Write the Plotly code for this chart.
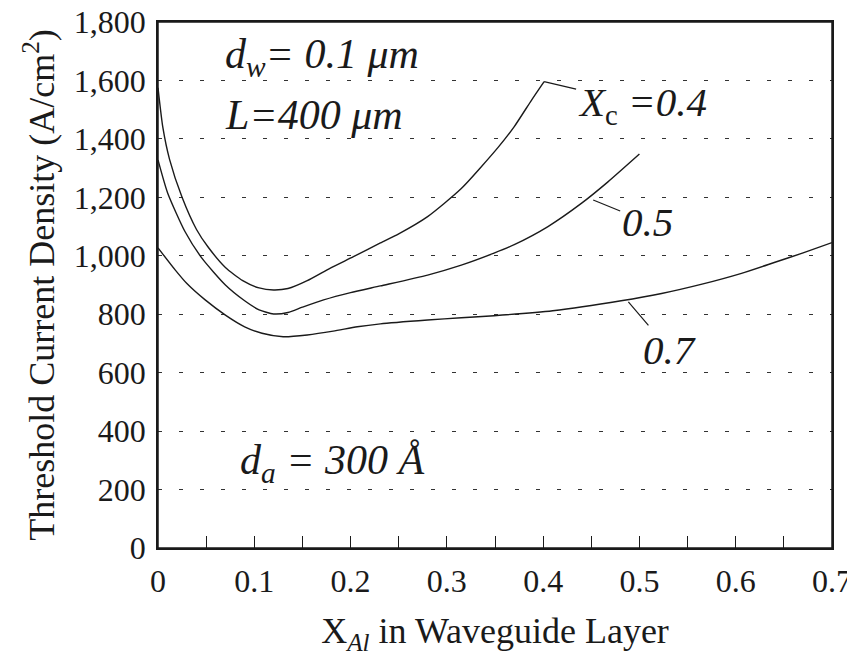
import plotly.graph_objects as go

# X_Al in waveguide layer vs threshold current density, one list pair per X_c curve
x_04 = [0.0, 0.005, 0.012, 0.025, 0.040, 0.052, 0.070, 0.088, 0.105, 0.120, 0.135, 0.155,
        0.179, 0.203, 0.231, 0.250, 0.280, 0.315, 0.353, 0.370, 0.388, 0.401]
y_04 = [1575, 1440, 1330, 1200, 1090, 1030, 960, 915, 890, 883, 888, 915,
        958, 997, 1044, 1075, 1134, 1230, 1370, 1442, 1533, 1596]

x_05 = [0.0, 0.010, 0.028, 0.046, 0.070, 0.090, 0.105, 0.120, 0.135, 0.150, 0.172, 0.200,
        0.231, 0.280, 0.315, 0.349, 0.370, 0.405, 0.440, 0.467, 0.500]
y_05 = [1328, 1215, 1083, 990, 900, 846, 815, 801, 806, 824, 849, 874,
        897, 934, 968, 1009, 1038, 1100, 1180, 1252, 1348]

x_07 = [0.0, 0.018, 0.030, 0.049, 0.070, 0.090, 0.108, 0.130, 0.155, 0.182, 0.207, 0.231,
        0.280, 0.315, 0.349, 0.410, 0.481, 0.523, 0.565, 0.606, 0.640, 0.670, 0.700]
y_07 = [1027, 951, 905, 849, 797, 757, 735, 723, 729, 742, 757, 767,
        780, 788, 795, 812, 846, 871, 903, 940, 977, 1010, 1045]

series = [("0.4", x_04, y_04), ("0.5", x_05, y_05), ("0.7", x_07, y_07)]

x_ticks = [0, 0.1, 0.2, 0.3, 0.4, 0.5, 0.6, 0.7]
x_tick_text = ["0", "0.1", "0.2", "0.3", "0.4", "0.5", "0.6", "0.7"]
y_ticks = [0, 200, 400, 600, 800, 1000, 1200, 1400, 1600, 1800]
y_tick_text = ["0", "200", "400", "600", "800", "1,000", "1,200", "1,400", "1,600", "1,800"]

# curve labels: (text, x on curve, y on curve, text offset px)
curve_labels = [
    ("<i>X</i><sub>c</sub><i> =0.4</i>", 0.401, 1596, 98, 23),
    ("<i>0.5</i>", 0.452, 1191, 54, 22),
    ("<i>0.7</i>", 0.4885, 842, 41, 48),
]

FONT = "Liberation Serif"
INK = "#1a1a1a"

fig = go.Figure()
for name, xs, ys in series:
    fig.add_trace(go.Scatter(x=xs, y=ys, mode="lines", name=name,
                             line=dict(color=INK, width=1.4, shape="spline", smoothing=0.6),
                             showlegend=False))

for text, xa, ya, ax, ay in curve_labels:
    fig.add_annotation(x=xa, y=ya, xref="x", yref="y", text=text, showarrow=True,
                       arrowhead=0, arrowwidth=1.2, arrowcolor=INK,
                       ax=ax, ay=ay, standoff=0, startstandoff=0,
                       font=dict(family=FONT, size=41, color=INK))

fig.add_annotation(x=0.068, y=1680, xref="x", yref="y", xanchor="left", yanchor="middle",
                   text="<i>d</i><sub><i>w</i></sub><i>= 0.1 μm</i>", showarrow=False,
                   font=dict(family=FONT, size=42, color=INK))
fig.add_annotation(x=0.068, y=1482, xref="x", yref="y", xanchor="left", yanchor="middle",
                   text="<i>L=400 μm</i>", showarrow=False,
                   font=dict(family=FONT, size=42, color=INK))
fig.add_annotation(x=0.083, y=291, xref="x", yref="y", xanchor="left", yanchor="middle",
                   text="<i>d</i><sub><i>a</i></sub><i> = 300 Å</i>", showarrow=False,
                   font=dict(family=FONT, size=42, color=INK))

# plot frame
fig.add_shape(type="rect", xref="paper", yref="paper", x0=0, x1=1, y0=0, y1=1,
              line=dict(color=INK, width=1.5), layer="above")

fig.update_layout(
    width=847, height=648,
    margin=dict(l=150, r=23, t=14, b=108),
    paper_bgcolor="white", plot_bgcolor="white",
    font=dict(family=FONT, size=32, color=INK),
)
fig.update_xaxes(
    range=[0, 0.7], tickvals=x_ticks, ticktext=x_tick_text, automargin=False,
    showline=True, linecolor=INK, linewidth=1.5, mirror=True,
    ticks="inside", ticklen=12, tickwidth=1.2, tickcolor=INK,
    minor=dict(ticks="inside", dtick=0.05, ticklen=12, tickwidth=1.2, tickcolor=INK, showgrid=False),
    showgrid=False, zeroline=False, ticklabelstandoff=4, ticklabeloverflow="allow",
    tickfont=dict(family=FONT, size=32),
    title=dict(text="X<sub><i>Al</i></sub> in Waveguide Layer", font=dict(family=FONT, size=36), standoff=20),
)
fig.update_yaxes(
    range=[0, 1800], tickvals=y_ticks, ticktext=y_tick_text, automargin=False,
    showline=True, linecolor=INK, linewidth=1.5, mirror=True,
    ticks="", showgrid=True, gridcolor="#333333", gridwidth=1.2, griddash="4px,17px",
    zeroline=False, ticklabelstandoff=4, ticklabeloverflow="allow",
    tickfont=dict(family=FONT, size=32),
    title=dict(text="Threshold Current Density (A/cm<sup>2</sup>)", font=dict(family=FONT, size=36), standoff=8),
)

fig.write_html("out.html")
